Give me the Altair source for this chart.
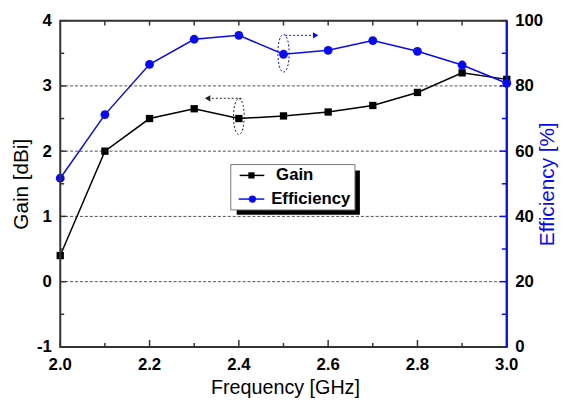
import altair as alt
import pandas as pd

# ---------------- data ----------------
freq = [2.0, 2.1, 2.2, 2.3, 2.4, 2.5, 2.6, 2.7, 2.8, 2.9, 3.0]
gain = [0.40, 2.00, 2.50, 2.65, 2.50, 2.54, 2.60, 2.70, 2.90, 3.20, 3.10]
efficiency = [51.7, 71.2, 86.6, 94.3, 95.5, 89.7, 90.9, 93.9, 90.6, 86.4, 80.8]

x_major = [2.0, 2.2, 2.4, 2.6, 2.8, 3.0]
x_minor = [2.1, 2.3, 2.5, 2.7, 2.9]
x_top = [2.1, 2.2, 2.3, 2.4, 2.5, 2.6, 2.7, 2.8, 2.9]
gain_major = [-1, 0, 1, 2, 3, 4]
gain_minor = [-0.5, 0.5, 1.5, 2.5, 3.5]
gain_grid = [0, 1, 2, 3]
eff_major = [0, 20, 40, 60, 80, 100]
eff_minor = [10, 30, 50, 70, 90]
x_title = ["Frequency [GHz]"]

# annotation anchors (data units)
gain_ellipse = {"f": [2.4], "g": [2.53]}
gain_arrow = {"f": [2.406], "f2": [2.338], "g": [2.81]}
gain_head = {"f": [2.330], "g": [2.81]}
eff_ellipse = {"f": [2.5], "e": [90.0]}
eff_arrow = {"f": [2.504], "f2": [2.565], "e": [95.5]}
eff_head = {"f": [2.572], "e": [95.5]}

W, H = 453, 331
FONT = "Liberation Sans"
BLUE = "#0a0af0"
ELLIPSE = "M0,-1C0.4,-1,0.4,1,0,1C-0.4,1,-0.4,-1,0,-1Z"

xs = alt.Scale(domain=[2, 3], nice=False)
gs = alt.Scale(domain=[-1, 4], nice=False)
es = alt.Scale(domain=[0, 100], nice=False)

g_axis = alt.Axis(orient="left", values=gain_major, labelExpr="'' + datum.value", ticks=False,
                  domain=False, grid=False,
                  labelFont=FONT, labelFontSize=17, labelFontWeight="bold", labelColor="black",
                  labelPadding=9, labelFlush=False, labelOverlap=False,
                  title="Gain [dBi]", titleFont=FONT, titleFontSize=21,
                  titleFontWeight="normal", titleColor="black",
                  titleAngle=270, titleBaseline="alphabetic", titleX=-33)
e_axis = alt.Axis(orient="right", values=eff_major, format="d", ticks=False, domain=False, grid=False,
                  labelFont=FONT, labelFontSize=17, labelFontWeight="bold", labelColor="black",
                  labelPadding=8, labelFlush=False, labelOverlap=False,
                  title="Efficiency [%]", titleFont=FONT, titleFontSize=21,
                  titleFontWeight="normal", titleColor=BLUE,
                  titleAngle=270, titleBaseline="alphabetic", titleX=47)

gdf = pd.DataFrame({"f": freq, "g": gain})
edf = pd.DataFrame({"f": freq, "e": efficiency})
dummy = pd.DataFrame({"a": [0]})


def X():
    return alt.X("f:Q", scale=xs, axis=None)


def GY(axis=None):
    return alt.Y("g:Q", scale=gs, axis=axis)


def EY(axis=None):
    return alt.Y("e:Q", scale=es, axis=axis)


# ---------------- main series ----------------
gain_line = alt.Chart(gdf).mark_line(
    color="black", strokeWidth=1.5,
    point=alt.OverlayMarkDef(shape="square", size=55, filled=True, color="black", opacity=1)).encode(
    x=X(), y=GY(g_axis))

eff_line = alt.Chart(edf).mark_line(
    color=BLUE, strokeWidth=1.5,
    point=alt.OverlayMarkDef(shape="circle", size=80, filled=True, color=BLUE, opacity=1)).encode(
    x=X(), y=EY(e_axis))

# ---------------- grid / ticks / x labels ----------------
grid = alt.Chart(pd.DataFrame({"g": gain_grid})).mark_rule(
    color="#222", strokeWidth=0.8, strokeDash=[3, 2]).encode(
    y=GY(), x=alt.value(0), x2=alt.value(W))

gy_major = alt.Chart(pd.DataFrame({"g": gain_major})).mark_rule(color="#333", strokeWidth=1.5).encode(
    y=GY(), x=alt.value(0), x2=alt.value(6))
gy_minor = alt.Chart(pd.DataFrame({"g": gain_minor})).mark_rule(color="#333", strokeWidth=1.5).encode(
    y=GY(), x=alt.value(0), x2=alt.value(4))
xb_major = alt.Chart(pd.DataFrame({"f": x_major})).mark_rule(color="#333", strokeWidth=1.5).encode(
    x=X(), y=alt.value(H), y2=alt.value(H - 7))
xb_minor = alt.Chart(pd.DataFrame({"f": x_minor})).mark_rule(color="#333", strokeWidth=1.5).encode(
    x=X(), y=alt.value(H), y2=alt.value(H - 4))
xt = alt.Chart(pd.DataFrame({"f": x_top})).mark_rule(color="#333", strokeWidth=1.5).encode(
    x=X(), y=alt.value(0), y2=alt.value(5))
ey_major = alt.Chart(pd.DataFrame({"e": eff_major})).mark_rule(color=BLUE, strokeWidth=1.5).encode(
    y=EY(), x=alt.value(W), x2=alt.value(W - 7))
ey_minor = alt.Chart(pd.DataFrame({"e": eff_minor})).mark_rule(color=BLUE, strokeWidth=1.5).encode(
    y=EY(), x=alt.value(W), x2=alt.value(W - 5))

x_labels = alt.Chart(pd.DataFrame({"f": x_major})).mark_text(
    font=FONT, fontSize=17, fontWeight="bold", color="black", align="center", baseline="top").encode(
    x=X(), y=alt.value(H + 10), text=alt.Text("f:Q", format=".1f"))
x_title_mark = alt.Chart(pd.DataFrame({"t": x_title})).mark_text(
    font=FONT, fontSize=20, color="black", align="center", baseline="alphabetic").encode(
    x=alt.value(W / 2 + 2), y=alt.value(H + 48), text="t:N")

# ---------------- annotations ----------------
g_ell = alt.Chart(pd.DataFrame(gain_ellipse)).mark_point(
    shape=ELLIPSE, size=1300, filled=False, color="#222", strokeWidth=1, strokeDash=[2, 2], opacity=1).encode(
    x=X(), y=GY())
g_arr = alt.Chart(pd.DataFrame(gain_arrow)).mark_rule(
    color="#222", strokeWidth=1, strokeDash=[2, 2]).encode(x=X(), x2="f2:Q", y=GY())
g_head = alt.Chart(pd.DataFrame(gain_head)).mark_point(
    shape="triangle-left", size=40, filled=True, color="#222", opacity=1).encode(x=X(), y=GY())
e_ell = alt.Chart(pd.DataFrame(eff_ellipse)).mark_point(
    shape=ELLIPSE, size=1444, filled=False, color=BLUE, strokeWidth=1, strokeDash=[2, 2], opacity=1).encode(
    x=X(), y=EY())
e_arr = alt.Chart(pd.DataFrame(eff_arrow)).mark_rule(
    color=BLUE, strokeWidth=1, strokeDash=[2, 2]).encode(x=X(), x2="f2:Q", y=EY())
e_head = alt.Chart(pd.DataFrame(eff_head)).mark_point(
    shape="triangle-right", size=40, filled=True, color=BLUE, opacity=1).encode(x=X(), y=EY())

# ---------------- frame + legend ----------------
base = alt.Chart(dummy)
frame = base.mark_rect(fill=None, stroke="#333", strokeWidth=2).encode(
    x=alt.value(0), x2=alt.value(W), y=alt.value(0), y2=alt.value(H))
right_edge = base.mark_rule(color=BLUE, strokeWidth=2).encode(
    x=alt.value(W), y=alt.value(0), y2=alt.value(H))
shadow = base.mark_rect(color="black").encode(
    x=alt.value(179), x2=alt.value(304), y=alt.value(152), y2=alt.value(197))
box = base.mark_rect(fill="white", stroke="#777", strokeWidth=1).encode(
    x=alt.value(173), x2=alt.value(299), y=alt.value(146), y2=alt.value(192))
lg_line1 = base.mark_rule(color="black", strokeWidth=1.5).encode(
    x=alt.value(182), x2=alt.value(207), y=alt.value(157))
lg_pt1 = base.mark_point(shape="square", size=40, filled=True, color="black", opacity=1).encode(
    x=alt.value(194), y=alt.value(157))
lg_txt1 = base.mark_text(text="Gain", align="left", baseline="middle", font=FONT,
                         fontSize=17, fontWeight="bold", color="black").encode(
    x=alt.value(219), y=alt.value(157))
lg_line2 = base.mark_rule(color=BLUE, strokeWidth=1.5).encode(
    x=alt.value(181), x2=alt.value(207), y=alt.value(181))
lg_pt2 = base.mark_point(shape="circle", size=55, filled=True, color=BLUE, opacity=1).encode(
    x=alt.value(195), y=alt.value(181))
lg_txt2 = base.mark_text(text="Efficiency", align="left", baseline="middle", font=FONT,
                         fontSize=17, fontWeight="bold", color="black").encode(
    x=alt.value(214), y=alt.value(181))

chart = alt.layer(
    gain_line, eff_line,
    grid, gy_major, gy_minor, xb_major, xb_minor, xt, ey_major, ey_minor, x_labels, x_title_mark,
    g_ell, g_arr, g_head, e_ell, e_arr, e_head,
    frame, right_edge, shadow, box, lg_line1, lg_pt1, lg_txt1, lg_line2, lg_pt2, lg_txt2,
).resolve_scale(y="independent").properties(
    width=W, height=H,
    autosize=alt.AutoSizeParams(type="none"),
    padding={"left": 53, "top": 10, "right": 53, "bottom": 50},
).configure_view(stroke=None).configure(background="white")

chart.save("out.html", embed_options={"renderer": "svg", "actions": False})
